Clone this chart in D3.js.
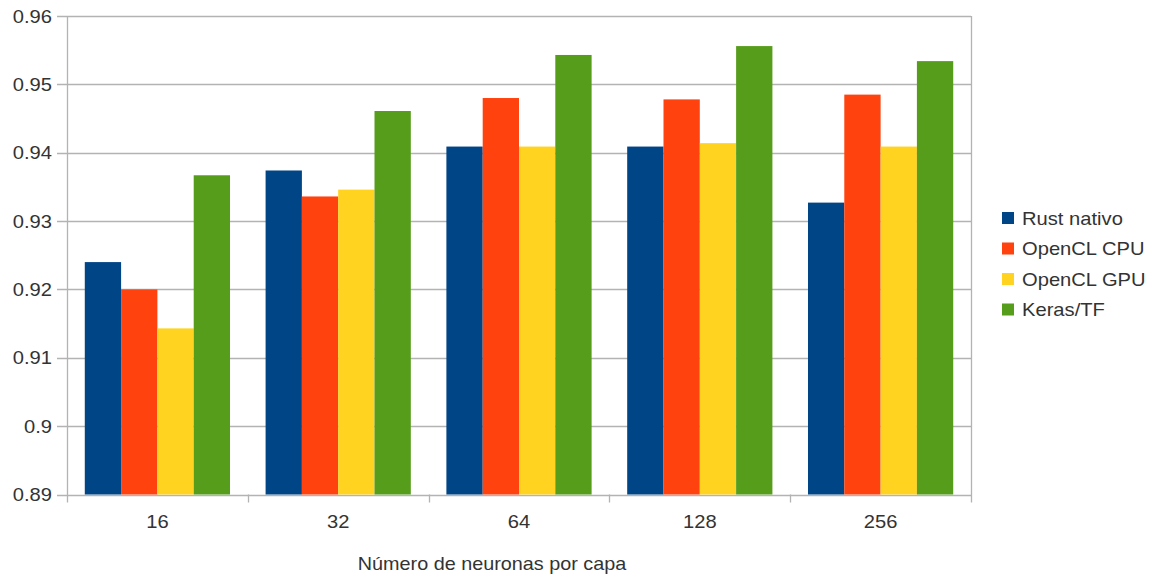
<!DOCTYPE html>
<html>
<head>
<meta charset="utf-8">
<script src="https://cdn.jsdelivr.net/npm/d3@7"></script>
<style>
  html, body { margin: 0; padding: 0; background: #fff; }
  svg { display: block; }
  text { font-family: "Liberation Sans", Arial, sans-serif; fill: #333; }
</style>
</head>
<body>
<svg id="chart" width="1153" height="577"></svg>
<script>
// Neurons per layer (categories)
const categories = ["16", "32", "64", "128", "256"];
// Implementations (series)
const seriesNames = ["Rust nativo", "OpenCL CPU", "OpenCL GPU", "Keras/TF"];
const seriesColors = ["#004586", "#ff420e", "#ffd320", "#579d1c"];
// Accuracy per implementation, one value per category
const rustNativo = [0.9240, 0.9374, 0.9409, 0.9409, 0.9327];
const openclCpu  = [0.9200, 0.9336, 0.9480, 0.9478, 0.9485];
const openclGpu  = [0.9143, 0.9346, 0.9409, 0.9414, 0.9409];
const kerasTf    = [0.9367, 0.9461, 0.9543, 0.9556, 0.9534];
const yTicks = [0.89, 0.9, 0.91, 0.92, 0.93, 0.94, 0.95, 0.96];
const xTitle = "Número de neuronas por capa";

const seriesValues = [rustNativo, openclCpu, openclGpu, kerasTf];

const svg = d3.select("#chart");
const plot = { left: 67, right: 971, top: 16, bottom: 494.5 };
const grid = "#b3b3b3";
const sx = 1.12; // horizontal text stretch

const x0 = d3.scaleBand().domain(categories).range([plot.left, plot.right]).padding(0);
const x1 = d3.scaleBand().domain(seriesNames).range([0, x0.bandwidth()])
  .paddingInner(0).paddingOuter(0.49);
const y = d3.scaleLinear().domain([0.89, 0.96]).range([plot.bottom, plot.top]);

// Horizontal grid lines with small left ticks
svg.append("g").selectAll("line").data(yTicks).join("line")
  .attr("x1", plot.left - 10).attr("x2", plot.right)
  .attr("y1", d => Math.round(y(d)) + 0.5).attr("y2", d => Math.round(y(d)) + 0.5)
  .attr("stroke", grid).attr("stroke-width", 1.3);

// Bars
const groups = svg.append("g").selectAll("g").data(categories).join("g")
  .attr("transform", c => `translate(${x0(c)},0)`);
groups.selectAll("rect")
  .data((c, i) => seriesNames.map((s, k) => ({ s, k, v: seriesValues[k][i] })))
  .join("rect")
  .attr("x", d => x1(d.s))
  .attr("width", x1.bandwidth())
  .attr("y", d => y(d.v))
  .attr("height", d => y(0.89) - y(d.v))
  .attr("fill", d => seriesColors[d.k]);

// Axes frame: left axis, right border, bottom axis with category ticks
svg.append("line").attr("x1", plot.left + 0.5).attr("x2", plot.left + 0.5)
  .attr("y1", plot.top).attr("y2", plot.bottom + 8).attr("stroke", grid).attr("stroke-width", 1.3);
svg.append("line").attr("x1", plot.right + 0.5).attr("x2", plot.right + 0.5)
  .attr("y1", plot.top).attr("y2", plot.bottom + 8).attr("stroke", grid).attr("stroke-width", 1.3);
const bounds = categories.map(c => x0(c));
svg.append("g").selectAll("line").data(bounds.slice(1)).join("line")
  .attr("x1", d => Math.round(d) + 0.5).attr("x2", d => Math.round(d) + 0.5)
  .attr("y1", plot.bottom).attr("y2", plot.bottom + 8)
  .attr("stroke", grid).attr("stroke-width", 1.3);

// Y tick labels
svg.append("g").selectAll("text").data(yTicks).join("text")
  .attr("transform", d => `translate(52,${y(d) + 6.5}) scale(${sx},1)`)
  .attr("text-anchor", "end").style("font-size", "18px")
  .text(d => d3.format("")(+d.toFixed(2)));

// X tick labels
svg.append("g").selectAll("text").data(categories).join("text")
  .attr("transform", c => `translate(${x0(c) + x0.bandwidth() / 2},528) scale(${sx},1)`)
  .attr("text-anchor", "middle").style("font-size", "18px")
  .text(c => c);

// X axis title
svg.append("text")
  .attr("transform", `translate(${(plot.left + plot.right) / 2 - 27},570) scale(1.1,1)`)
  .attr("text-anchor", "middle").style("font-size", "18px")
  .text(xTitle);

// Legend
const legend = svg.append("g").selectAll("g").data(seriesNames).join("g")
  .attr("transform", (d, i) => `translate(1002,${218 + i * 30.5})`);
legend.append("rect").attr("x", 0).attr("y", -6).attr("width", 12).attr("height", 12)
  .attr("fill", (d, i) => seriesColors[i]);
legend.append("text")
  .attr("transform", `translate(20,6.5) scale(${sx},1)`)
  .style("font-size", "18px")
  .text(d => d);
</script>
</body>
</html>
